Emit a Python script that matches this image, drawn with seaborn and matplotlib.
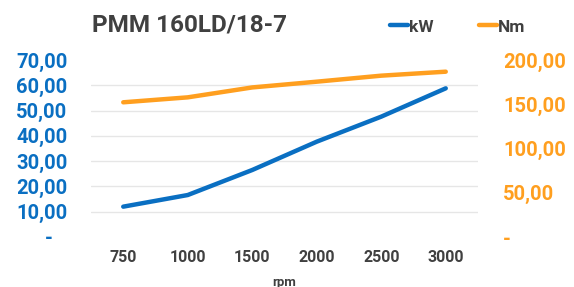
import matplotlib
matplotlib.use("Agg")
import matplotlib.pyplot as plt
import seaborn as sns
import pandas as pd

# ---- data ----
rpm = ["750", "1000", "1500", "2000", "2500", "3000"]
kw = [12.0, 16.6, 26.5, 37.7, 47.6, 58.8]
nm = [152.2, 157.8, 169.0, 175.5, 182.3, 186.8]
title = "PMM 160LD/18-7"
left_ticks = [0, 10, 20, 30, 40, 50, 60, 70]
right_ticks = [0, 50, 100, 150, 200]

BLUE = "#0A6FC2"
ORANGE = "#FF9F1F"
GRAY = "#404040"

sns.set_theme(style="white")
plt.rcParams["font.family"] = ["Roboto", "DejaVu Sans"]

df = pd.DataFrame({"rpm": rpm, "kW": kw, "Nm": nm})

fig = plt.figure(figsize=(5.74, 2.87), dpi=100)
ax = fig.add_axes([91 / 574, 1 - 237 / 287, (478 - 91) / 574, (237 - 60) / 287])
ax2 = ax.twinx()

sns.lineplot(data=df, x="rpm", y="kW", ax=ax, color=BLUE, linewidth=3.2,
             sort=False, label="kW", legend=False)
sns.lineplot(data=df, x="rpm", y="Nm", ax=ax2, color=ORANGE, linewidth=3.2,
             sort=False, label="Nm", legend=False)

ax.set_xlim(-0.5, len(rpm) - 0.5)
ax.set_ylim(0, 70)
ax2.set_ylim(0, 200)

ax.set_yticks(left_ticks)
ax.set_yticklabels(["-   " if v == 0 else f"{v:.2f}".replace(".", ",") for v in left_ticks])
ax2.set_yticks(right_ticks)
ax2.set_yticklabels(["-" if v == 0 else f"{v:.2f}".replace(".", ",") for v in right_ticks])

ax.tick_params(axis="y", colors=BLUE, labelsize=14.5, length=0, pad=17)
ax2.tick_params(axis="y", colors=ORANGE, labelsize=14.5, length=0, pad=18)
ax.tick_params(axis="x", colors=GRAY, labelsize=11.5, length=0, pad=9)
for lab in ax.get_yticklabels():
    lab.set_color(BLUE)
    lab.set_fontweight("bold")
for lab in ax2.get_yticklabels():
    lab.set_color(ORANGE)
    lab.set_fontweight("bold")
for lab in ax.get_xticklabels():
    lab.set_fontweight("bold")

ax.set_xlabel("rpm", fontsize=9.5, color=GRAY, fontweight="bold", labelpad=8)
ax.set_ylabel("")
ax2.set_ylabel("")

ax.grid(axis="y", color="#E6E6E6", linewidth=1.0)
ax.grid(axis="x", visible=False)
ax2.grid(False)
gl = ax.yaxis.get_gridlines()
gl[0].set_visible(False)
gl[-1].set_visible(False)

for a in (ax, ax2):
    for s in a.spines.values():
        s.set_visible(False)

fig.text(189 / 574, 1 - 25 / 287, title, ha="center", va="center",
         fontsize=17.5, color=GRAY, fontweight="bold")

h1, l1 = ax.get_legend_handles_labels()
h2, l2 = ax2.get_legend_handles_labels()
leg = fig.legend(h1 + h2, l1 + l2, loc="center", bbox_to_anchor=(458 / 574, 1 - 27 / 287),
                 ncol=2, frameon=False, fontsize=12.5, handlelength=1.0,
                 handletextpad=0.1, columnspacing=2.6)
for t in leg.get_texts():
    t.set_color(GRAY)
    t.set_fontweight("bold")

fig.savefig("out.png", dpi=100)
